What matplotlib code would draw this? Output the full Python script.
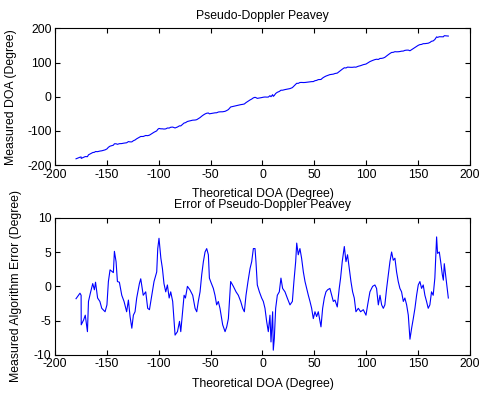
import numpy as np
import matplotlib.pyplot as plt

plt.rcParams['font.family'] = ['Liberation Sans', 'DejaVu Sans']
plt.rcParams['font.size'] = 8.8
plt.rcParams['axes.unicode_minus'] = False

# theoretical direction of arrival (degrees) and measured error at each
theta = [-179.8, -176, -174.9, -174.8, -172.5, -170.9, -169.9, -168.8, -167.8,
         -166, -163.7, -162.1, -161, -159, -156.8, -155, -151.8, -150, -148.6,
         -147, -143.8, -142.8, -141.2, -139.9, -138, -135.7, -133.5, -131,
         -129.3, -127.7, -126, -124.5, -122.9, -121.3, -118.7, -117.4, -115,
         -112.6, -110.7, -109, -106.8, -104.6, -102, -101, -99.8, -98, -96.5,
         -95, -93.3, -91.7, -90, -88.5, -86.6, -84.3, -82, -80, -78.8, -77,
         -75.6, -74.3, -72.4, -70, -67.3, -65, -63.4, -61.9, -60.2, -58.6, -57,
         -55.4, -53.8, -52.2, -51.2, -50, -47.4, -45.8, -44.2, -42.6, -41,
         -38.4, -36.1, -34.5, -32.9, -30.7, -28.1, -25.5, -23.3, -21, -19.1,
         -17.5, -15.9, -14, -12, -10.4, -8.8, -7.2, -6.3, -5, -3, -0.8, 0.8,
         2.4, 4, 5.6, 7.2, 8.2, 9.8, 10.4, 11.4, 12.7, 14.3, 16.2, 17.8, 19.4,
         21.7, 23.9, 26.5, 28.8, 30.3, 32, 33, 34.5, 36.1, 37.7, 39.4, 41, 42.6,
         44.2, 45.8, 47.4, 49, 50.6, 52.2, 53.8, 55.4, 56.4, 58, 59.6, 61.2,
         62.8, 65, 66.7, 68.3, 69.9, 72.1, 74, 75.3, 76.9, 78.9, 80.5, 82, 83.7,
         85.3, 86.9, 88.5, 90.1, 92.4, 94.6, 97.2, 99.8, 101.4, 103.6, 106.2,
         108.4, 110, 111.7, 113.3, 114.9, 116.5, 118, 119.7, 121.3, 122.9,
         124.5, 126.1, 127.7, 129.3, 130.9, 132.5, 134.1, 135.8, 137.3, 139,
         140.6, 142.2, 143.8, 145.4, 147, 148.6, 150.2, 151.8, 153.4, 155,
         156.6, 158.2, 159.8, 161.4, 163, 164.6, 166.2, 167.9, 168.8, 170.5,
         171.8, 173.4, 174.4, 175.3, 176.9, 178.2, 179.2]
error = [-1.8, -1, -1.3, -5.6, -4.9, -4.2, -5.4, -6.6, -2.2,
         -1, 0.4, -0.5, 0.6, -1.7, -2.2, -3.2, -3.7, -2.7, 0.7,
         2.4, 2, 5.1, 3.6, 0.7, 0.6, -1.3, -2.2, -3.7,
         -2, -4.4, -6.1, -4.2, -3.7, -1.7, 0.4, 1.1, -1.3,
         -0.8, -3.2, -3.4, -1.3, 0.7, 2.1, 5.5, 7, 4.1, 2.6,
         0.4, -0.8, 0.2, -1.7, -0.8, -2.2, -7.1, -6.6, -5.1, -6.6, -3.7,
         -1.3, -1.7, 0, -0.5, -1.3, -3.2, -3.7, -2.2, -0.8, 1.7, 3.6,
         5, 5.5, 4.6, 1.2, 0.7, -0.3, -1.3, -2.7, -2.2, -3.2,
         -5.6, -6.6, -5.9, -4.7, 0.7, 0, -0.8, -1.3, -2.2, -3.2,
         -3.7, -1.3, 0.7, 2.6, 3.6, 5.5, 5.5, 3.6, 0.2, -0.8, -1.7, -2.2,
         -3.2, -5.1, -6.6, -4.2, -8.1, -3.7, -9.3, -7.6, -3.2, -1.3, -0.8, 1.2, -0.3,
         -0.8, -1.7, -2.7, -2.2, 0.7, 3.6, 6.3, 4.6, 5.5, 4.1, 2.1, 0.7, -0.3,
         -1.3, -2.2, -3.2, -4.7, -3.7, -4.4, -3.7, -5.1, -5.9, -3.2, -1.7, -0.8,
         -0.5, -0.3, -1.3, -2.2, -2, -3, -0.3, 1.2, 3.6, 5.8, 3.6, 4.6, 2.6,
         0.7, -0.8, -1.7, -3.7, -3.2, -3.7, -3.4, -4.2, -2.7, -0.8, 0,
         0.2, -0.3, -2.7, -1.3, -2.7, -3.2, -2.7, -0.3, 1.7, 3.6,
         5, 3.8, 4.1, 2.1, 0.7, -0.3, -0.8, -2.2, -1.7, -2.7,
         -4.2, -7.7, -6.1, -4.7, -3.2, -1.3, 0.2, 0.7, -0.3, 0.2,
         -1.3, -2.2, -3.2, -2.7, -0.8, -1.3, 1.2, 7.2, 4.8, 5,
         3.6, 1.7, 0.9, 3.3, 1.2, -0.5, -1.7]

theta = np.array(theta)
error = np.array(error)
measured = theta + error

fig = plt.figure(figsize=(4.79, 3.94), dpi=100)
ax1 = fig.add_axes([0.115, 0.581, 0.866, 0.347])
ax2 = fig.add_axes([0.115, 0.099, 0.866, 0.3485])

ax1.plot(theta, measured, color='blue', lw=0.8)
ax1.set_xlim(-200, 200)
ax1.set_ylim(-200, 200)
ax1.set_xticks(np.arange(-200, 201, 50))
ax1.set_yticks(np.arange(-200, 201, 100))
ax1.set_title('Pseudo-Doppler Peavey', fontsize=8.8, pad=7)
ax1.set_xlabel('Theoretical DOA (Degree)')
ax1.set_ylabel('Measured DOA (Degree)')

ax2.plot(theta, error, color='blue', lw=0.8)
ax2.set_xlim(-200, 200)
ax2.set_ylim(-10, 10)
ax2.set_xticks(np.arange(-200, 201, 50))
ax2.set_yticks(np.arange(-10, 11, 5))
ax2.set_title('Error of Pseudo-Doppler Peavey', fontsize=8.8, pad=7)
ax2.set_xlabel('Theoretical DOA (Degree)')
ax2.set_ylabel('Measured Algorithm Error (Degree)')

for ax in (ax1, ax2):
    ax.tick_params(direction='in', length=3.5, width=0.8, top=True, right=True,
                   labelsize=8.8, pad=2.5)
    for s in ax.spines.values():
        s.set_linewidth(0.8)
    ax.xaxis.set_label_coords(0.5, -0.165)
    ax.xaxis.label.set_va('top')

ax1.yaxis.set_label_coords(-0.092, 0.5)
ax2.yaxis.set_label_coords(-0.08, 0.5)

fig.savefig('out.png', dpi=100)
